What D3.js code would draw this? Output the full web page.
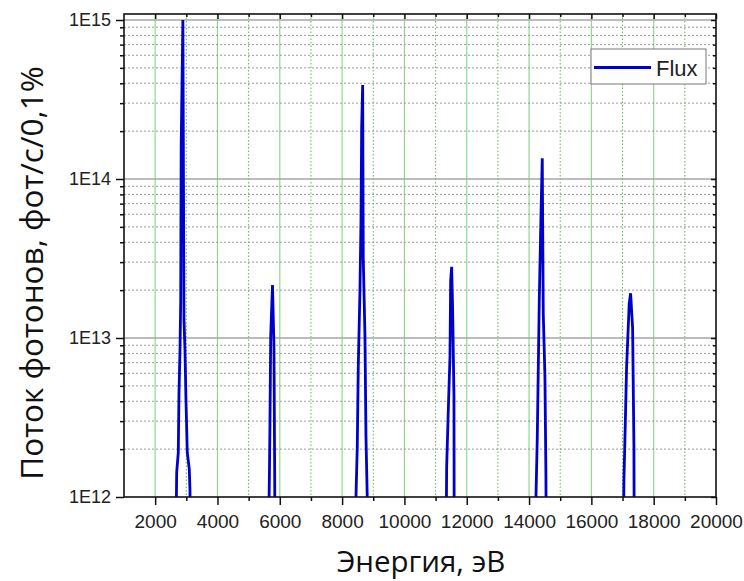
<!DOCTYPE html>
<html>
<head>
<meta charset="utf-8">
<script src="https://cdn.jsdelivr.net/npm/d3@7"></script>
<style>
  html, body { margin: 0; padding: 0; background: #fff; }
  svg { display: block; }
  .tick text { font-family: "Liberation Sans", Arial, sans-serif; fill: #222; }
</style>
</head>
<body>
<svg id="chart" width="744" height="581"></svg>
<script>
// Undulator harmonics: photon energy (eV) and flux (ph/s/0.1%) for each peak.
// Values below 1E12 only carry the curve off the bottom of the log axis.
const h1Energy = [2670, 2691, 2742, 2765, 2797, 2820, 2835, 2890, 2925, 2957, 2989, 3031, 3095, 3118, 3130];
const h1Flux   = [6e11, 1.43e12, 1.9e12, 4.5e12, 8.4e12, 1.7e13, 1.6e14, 1.0e15, 1.3e13, 8.4e12, 4.1e12, 1.9e12, 1.5e12, 1.1e12, 6e11];

const h2Energy = [5640, 5663, 5685, 5708, 5766, 5813, 5835, 5845];
const h2Flux   = [6e11, 1.2e12, 2.9e12, 1.02e13, 2.15e13, 8.8e12, 1.5e12, 6e11];

const h3Energy = [8430, 8445, 8487, 8519, 8573, 8605, 8628, 8660, 8679, 8734, 8766, 8807, 8820];
const h3Flux   = [6e11, 1.0e12, 2.07e12, 6.6e12, 2.0e13, 5.3e13, 2.13e14, 3.9e14, 3.2e13, 1.02e13, 2.4e12, 1.0e12, 6e11];

const h4Energy = [11340, 11356, 11408, 11462, 11484, 11516, 11548, 11590, 11598];
const h4Flux   = [6e11, 1.55e12, 3.5e12, 7.6e12, 2.3e13, 2.8e13, 1.5e13, 4.3e12, 6e11];

const h5Energy = [14210, 14222, 14263, 14296, 14328, 14382, 14424, 14456, 14510, 14542, 14550];
const h5Flux   = [6e11, 1.0e12, 2.3e12, 6.3e12, 1.73e13, 5.8e13, 1.35e14, 1.43e13, 5.7e12, 1.34e12, 6e11];

const h6Energy = [17030, 17045, 17077, 17131, 17215, 17260, 17324, 17366, 17375];
const h6Flux   = [6e11, 1.28e12, 2.3e12, 6.6e12, 1.65e13, 1.91e13, 1.15e13, 2.07e12, 6e11];

const xMajorTicks = [2000, 4000, 6000, 8000, 10000, 12000, 14000, 16000, 18000, 20000];
const xMinorTicks = [3000, 5000, 7000, 9000, 11000, 13000, 15000, 17000, 19000];
const yMajorTicks = [1e12, 1e13, 1e14, 1e15];
const yTickLabels = ["1E12", "1E13", "1E14", "1E15"];

const seriesName = "Flux";
const xTitle = "Энергия, эВ";
const yTitle = "Поток фотонов, фот/с/0,1%";

// ---- build the series ----
const energies = [h1Energy, h2Energy, h3Energy, h4Energy, h5Energy, h6Energy];
const fluxes = [h1Flux, h2Flux, h3Flux, h4Flux, h5Flux, h6Flux];
const series = [];
energies.forEach((es, i) => es.forEach((e, j) => series.push({ e, f: fluxes[i][j] })));

const yMinorTicks = [];
[1e12, 1e13, 1e14].forEach(d => { for (let k = 2; k <= 9; k++) yMinorTicks.push(k * d); });

// ---- layout ----
const plot = { left: 124, right: 716, top: 14, bottom: 497 };
const svg = d3.select("#chart");

const x = d3.scaleLinear().domain([1000, 20000]).range([plot.left, plot.right]);
const y = d3.scaleLog().domain([1e12, 1e15]).range([plot.bottom, 20]);

svg.append("defs").append("clipPath").attr("id", "plotClip")
  .append("rect")
  .attr("x", plot.left).attr("y", plot.top)
  .attr("width", plot.right - plot.left).attr("height", plot.bottom - plot.top);

// ---- grid ----
const grid = svg.append("g");
grid.selectAll(".vminor").data(xMinorTicks).join("line")
  .attr("x1", d => x(d)).attr("x2", d => x(d))
  .attr("y1", plot.top).attr("y2", plot.bottom)
  .attr("stroke", "#5cb85c").attr("stroke-width", 1).attr("stroke-dasharray", "1.5,2");
grid.selectAll(".vmajor").data(xMajorTicks.filter(d => d < 20000)).join("line")
  .attr("x1", d => x(d)).attr("x2", d => x(d))
  .attr("y1", plot.top).attr("y2", plot.bottom)
  .attr("stroke", "#8fd98f").attr("stroke-width", 1.2);
grid.selectAll(".hminor").data(yMinorTicks).join("line")
  .attr("x1", plot.left).attr("x2", plot.right)
  .attr("y1", d => y(d)).attr("y2", d => y(d))
  .attr("stroke", "#9a9a9a").attr("stroke-width", 1).attr("stroke-dasharray", "2,2");
grid.selectAll(".hmajor").data(yMajorTicks.filter(d => d > 1e12)).join("line")
  .attr("x1", plot.left).attr("x2", plot.right)
  .attr("y1", d => y(d)).attr("y2", d => y(d))
  .attr("stroke", "#a6a6a6").attr("stroke-width", 1.6);

// ---- series line ----
const line = d3.line().x(d => x(d.e)).y(d => y(d.f));
svg.append("path")
  .datum(series)
  .attr("clip-path", "url(#plotClip)")
  .attr("fill", "none")
  .attr("stroke", "#0000cc")
  .attr("stroke-width", 2.8)
  .attr("stroke-linejoin", "miter")
  .attr("d", line);

// ---- axes ----
function styleAxis(g) {
  g.select(".domain").remove();
  g.selectAll(".tick line").attr("stroke", "#111").attr("stroke-width", 1.5);
}

svg.append("g").attr("transform", `translate(0,${plot.bottom})`)
  .call(d3.axisBottom(x).tickValues(xMajorTicks).tickSize(8).tickPadding(10).tickFormat(d3.format("d")))
  .call(styleAxis)
  .call(g => g.selectAll(".tick text").attr("font-size", 19));
svg.append("g").attr("transform", `translate(0,${plot.bottom})`)
  .call(d3.axisBottom(x).tickValues(xMinorTicks).tickSize(4).tickFormat(""))
  .call(styleAxis);

svg.append("g").attr("transform", `translate(0,${plot.top})`)
  .call(d3.axisTop(x).tickValues(xMajorTicks).tickSize(-5).tickFormat(""))
  .call(styleAxis);
svg.append("g").attr("transform", `translate(0,${plot.top})`)
  .call(d3.axisTop(x).tickValues(xMinorTicks).tickSize(-3).tickFormat(""))
  .call(styleAxis);

svg.append("g").attr("transform", `translate(${plot.left},0)`)
  .call(d3.axisLeft(y).tickValues(yMajorTicks).tickSize(8).tickPadding(5)
    .tickFormat((d, i) => yTickLabels[i]))
  .call(styleAxis)
  .call(g => g.selectAll(".tick text").attr("font-size", 18));
svg.append("g").attr("transform", `translate(${plot.left},0)`)
  .call(d3.axisLeft(y).tickValues(yMinorTicks).tickSize(4).tickFormat(""))
  .call(styleAxis);

svg.append("g").attr("transform", `translate(${plot.right},0)`)
  .call(d3.axisRight(y).tickValues(yMajorTicks).tickSize(-5).tickFormat(""))
  .call(styleAxis);
svg.append("g").attr("transform", `translate(${plot.right},0)`)
  .call(d3.axisRight(y).tickValues(yMinorTicks).tickSize(-3).tickFormat(""))
  .call(styleAxis);

// frame
svg.append("rect")
  .attr("x", plot.left).attr("y", plot.top)
  .attr("width", plot.right - plot.left).attr("height", plot.bottom - plot.top)
  .attr("fill", "none").attr("stroke", "#111").attr("stroke-width", 1.6);

// ---- legend ----
const legend = svg.append("g").attr("transform", "translate(591,49)");
legend.append("rect").attr("width", 115).attr("height", 35)
  .attr("fill", "#fff").attr("stroke", "#777").attr("stroke-width", 1);
legend.append("line").attr("x1", 3).attr("x2", 60).attr("y1", 18.5).attr("y2", 18.5)
  .attr("stroke", "#0000cc").attr("stroke-width", 2.8);
legend.append("text").attr("x", 65).attr("y", 26.5)
  .attr("font-family", "Liberation Sans, Arial, sans-serif").attr("font-size", 22)
  .attr("fill", "#222").text(seriesName);

// ---- axis titles ----
svg.append("text")
  .attr("x", 421).attr("y", 572)
  .attr("text-anchor", "middle")
  .attr("font-family", "Open Sans, sans-serif").attr("font-size", 29.5)
  .attr("fill", "#111").text(xTitle);
svg.append("text")
  .attr("transform", "translate(43,273) rotate(-90)")
  .attr("text-anchor", "middle")
  .attr("font-family", "Open Sans, sans-serif").attr("font-size", 31.5)
  .attr("fill", "#111").text(yTitle);
</script>
</body>
</html>
